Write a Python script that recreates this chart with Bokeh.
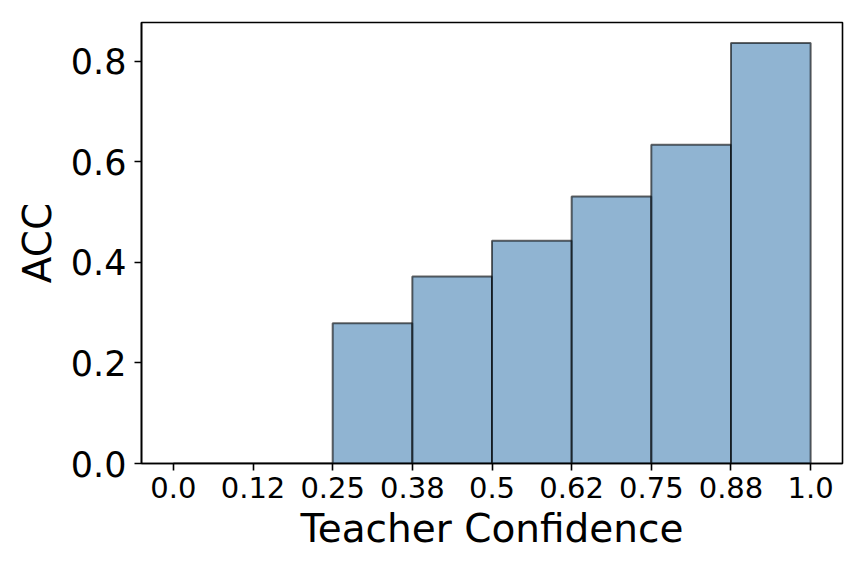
from bokeh.plotting import figure
from bokeh.models import Range1d, FixedTicker, ColumnDataSource
from bokeh.embed import file_html
from bokeh.resources import INLINE

# Data
bin_left = [0.0, 0.125, 0.25, 0.375, 0.5, 0.625, 0.75, 0.875]
bin_right = [0.125, 0.25, 0.375, 0.5, 0.625, 0.75, 0.875, 1.0]
acc = [0.0, 0.0, 0.279, 0.372, 0.443, 0.531, 0.634, 0.836]
x_ticks = [0.0, 0.125, 0.25, 0.375, 0.5, 0.625, 0.75, 0.875, 1.0]
x_tick_labels = ["0.0", "0.12", "0.25", "0.38", "0.5", "0.62", "0.75", "0.88", "1.0"]
y_ticks = [0.0, 0.2, 0.4, 0.6, 0.8]
y_tick_labels = ["0.0", "0.2", "0.4", "0.6", "0.8"]

FONT = "DejaVu Sans"

src = ColumnDataSource(dict(left=bin_left, right=bin_right, top=acc, bottom=[0.0] * len(acc)))

p = figure(frame_width=701, frame_height=441,
           min_border_left=141, min_border_top=22, min_border_right=10, min_border_bottom=100,
           x_range=Range1d(-0.05, 1.05), y_range=Range1d(0.0, 0.877),
           output_backend="svg", toolbar_location=None,
           background_fill_color="white", border_fill_color="white")

p.quad(left="left", right="right", top="top", bottom="bottom", source=src,
       fill_color="steelblue", fill_alpha=0.6,
       line_color="black", line_alpha=0.6, line_width=2)

p.grid.visible = False
p.outline_line_color = "black"
p.outline_line_width = 1.6
p.outline_line_alpha = 1.0

p.xaxis.ticker = FixedTicker(ticks=x_ticks)
p.xaxis.major_label_overrides = {t: l for t, l in zip(x_ticks, x_tick_labels)}
p.yaxis.ticker = FixedTicker(ticks=y_ticks)
p.yaxis.major_label_overrides = {t: l for t, l in zip(y_ticks, y_tick_labels)}

for ax in (p.xaxis[0], p.yaxis[0]):
    ax.axis_line_color = "black"
    ax.axis_line_width = 1.6
    ax.major_tick_line_color = "black"
    ax.major_tick_line_width = 1.6
    ax.major_tick_in = 0
    ax.major_tick_out = 7
    ax.minor_tick_line_color = None
    ax.major_label_text_font = FONT
    ax.major_label_text_color = "black"
    ax.axis_label_text_font = FONT
    ax.axis_label_text_font_style = "normal"
    ax.axis_label_text_color = "black"
    ax.axis_label_text_font_size = "39px"

p.xaxis.axis_label = "Teacher Confidence"
p.yaxis.axis_label = "ACC"
p.xaxis.major_label_text_font_size = "29px"
p.yaxis.major_label_text_font_size = "35px"
p.xaxis.major_label_standoff = 6
p.yaxis.major_label_standoff = 8
p.xaxis.axis_label_standoff = 5
p.yaxis.axis_label_standoff = 8

open("out.html", "w").write(file_html(p, INLINE))
